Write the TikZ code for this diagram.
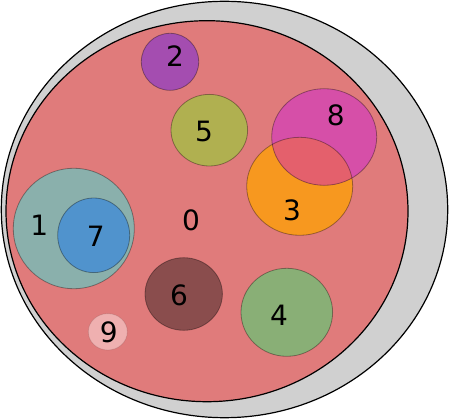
\documentclass[tikz,border=0pt]{standalone}
\usepackage{fontspec}
\setmainfont{DejaVu Sans}
\definecolor{outergray}{HTML}{D0D0D0}
\definecolor{setred}{HTML}{E07B7B}
\definecolor{setteal}{HTML}{8AB0AC}
\definecolor{setblue}{HTML}{5093CD}
\definecolor{setpurple}{HTML}{A44DB0}
\definecolor{setolive}{HTML}{B0B050}
\definecolor{setmagenta}{HTML}{D64FA8}
\definecolor{setorange}{HTML}{F7981F}
\definecolor{setbrown}{HTML}{8A4D4D}
\definecolor{setgreen}{HTML}{89AF76}
\definecolor{setpink}{HTML}{EFB0B0}
\definecolor{overlapred}{HTML}{E4606C}
\tikzset{
  hull/.style={draw=black, line width=1.2pt},
  blob/.style={draw=black, draw opacity=0.35, line width=0.8pt},
  lbl/.style={inner sep=0pt, font=\fontsize{28}{28}\selectfont}
}

\begin{document}
\begin{tikzpicture}[x=1pt, y=-1pt]
  \useasboundingbox (0,0) rectangle (449,419);

  % outer sets
  \draw[hull, fill=outergray] (224.5,209.5) ellipse [x radius=223.2, y radius=208.2];
  \draw[hull, fill=setred] (207,211.2) ellipse [x radius=201, y radius=190.5];

  % inner sets
  \fill[setteal] (73.8,228.5) ellipse [x radius=60.5, y radius=60.2];
  \fill[setblue] (93.7,235.3) ellipse [x radius=36, y radius=37.3];
  \fill[setpurple] (170,61.8) ellipse [x radius=28.7, y radius=28.5];
  \fill[setolive] (209.3,130.2) ellipse [x radius=38.3, y radius=35.8];
  \fill[setorange] (299.7,186.3) ellipse [x radius=53, y radius=49];
  \fill[setmagenta] (324.2,137) ellipse [x radius=52.5, y radius=48.3];
  \begin{scope}
    \clip (299.7,186.3) ellipse [x radius=53, y radius=49];
    \fill[overlapred] (324.2,137) ellipse [x radius=52.5, y radius=48.3];
  \end{scope}
  \fill[setbrown] (183.7,294) ellipse [x radius=38.7, y radius=36.3];
  \fill[setgreen] (286.8,312.3) ellipse [x radius=45.8, y radius=44];
  \fill[setpink] (107.8,331.8) ellipse [x radius=19.5, y radius=18.2];

  % outlines
  \draw[blob] (73.8,228.5) ellipse [x radius=60.5, y radius=60.2];
  \draw[blob] (93.7,235.3) ellipse [x radius=36, y radius=37.3];
  \draw[blob] (170,61.8) ellipse [x radius=28.7, y radius=28.5];
  \draw[blob] (209.3,130.2) ellipse [x radius=38.3, y radius=35.8];
  \draw[blob] (299.7,186.3) ellipse [x radius=53, y radius=49];
  \draw[blob] (324.2,137) ellipse [x radius=52.5, y radius=48.3];
  \draw[blob] (183.7,294) ellipse [x radius=38.7, y radius=36.3];
  \draw[blob] (286.8,312.3) ellipse [x radius=45.8, y radius=44];
  \draw[blob, draw opacity=0.1] (107.8,331.8) ellipse [x radius=19.5, y radius=18.2];

  % labels
  \node[lbl] (l0) at (191,220) {0};
  \node[lbl] (l1) at (39.3,225) {1};
  \node[lbl] (l2) at (175,56) {2};
  \node[lbl] (l3) at (292,210) {3};
  \node[lbl] (l4) at (279,315) {4};
  \node[lbl] (l5) at (204,131.7) {5};
  \node[lbl] (l6) at (179,295.7) {6};
  \node[lbl] (l7) at (95.7,236) {7};
  \node[lbl] (l8) at (335.7,115.7) {8};
  \node[lbl] (l9) at (108.7,332.7) {9};
\end{tikzpicture}
\end{document}
